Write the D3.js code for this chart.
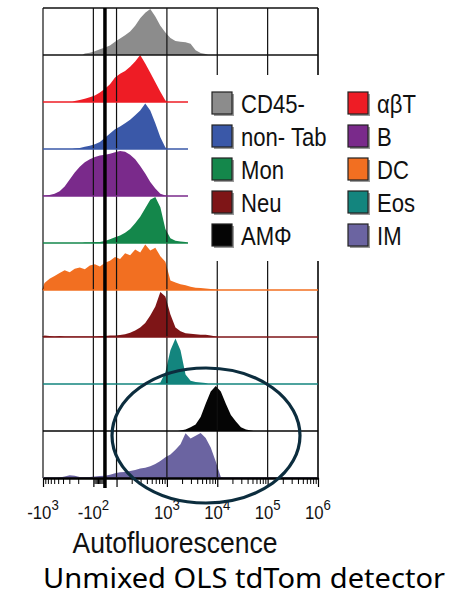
<!DOCTYPE html>
<html>
<head>
<meta charset="utf-8">
<script src="https://cdn.jsdelivr.net/npm/d3@7"></script>
<style>
  body { margin: 0; background: #fff; }
  svg { display: block; }
</style>
</head>
<body>
<script>
// Autofluorescence histograms, one row per cell type

// row order (top to bottom)
const cellTypes = ["CD45-", "αβT", "non- Tab", "B", "Mon", "DC", "Neu", "Eos", "AMΦ", "IM"];
const cellColors = ["#8c8c8c", "#ee1c25", "#3a58a8", "#7a2a8b", "#14874b", "#f26f21", "#7e1517", "#13857e", "#050505", "#6b64a1"];

// legend layout (two columns)
const legendCol1 = ["CD45-", "non- Tab", "Mon", "Neu", "AMΦ"];
const legendCol2 = ["αβT", "B", "DC", "Eos", "IM"];

// histogram heights (fraction of row) per bin, bins are 0.1 display-decade wide
const binStart = [8, 6, 6, 0, 8, 0, 0, 22, 27, 3];
const cd45Hist = [0.03, 0.05, 0.08, 0.12, 0.16, 0.2, 0.28, 0.35, 0.42, 0.5, 0.62, 0.78, 0.9, 0.98, 0.82, 0.62, 0.48, 0.36, 0.3, 0.28, 0.27, 0.24, 0.1, 0.04, 0.02];
const abtHist = [0.02, 0.04, 0.07, 0.1, 0.14, 0.2, 0.28, 0.38, 0.52, 0.6, 0.66, 0.75, 0.86, 1.0, 0.82, 0.62, 0.42, 0.22, 0.03];
const nonTabHist = [0.01, 0.02, 0.05, 0.07, 0.1, 0.15, 0.24, 0.33, 0.42, 0.48, 0.55, 0.62, 0.72, 0.82, 0.97, 0.82, 0.55, 0.25, 0.03];
const bHist = [0.01, 0.02, 0.05, 0.1, 0.2, 0.35, 0.5, 0.62, 0.72, 0.78, 0.83, 0.86, 0.88, 0.9, 0.93, 0.96, 0.94, 0.88, 0.78, 0.64, 0.48, 0.3, 0.16, 0.05, 0.01];
const monHist = [0.01, 0.01, 0.02, 0.02, 0.04, 0.08, 0.12, 0.16, 0.22, 0.3, 0.42, 0.56, 0.74, 0.92, 0.98, 0.76, 0.3, 0.1, 0.05, 0.03, 0.02];
const dcHist = [0.15, 0.24, 0.3, 0.36, 0.42, 0.38, 0.45, 0.48, 0.44, 0.52, 0.55, 0.5, 0.58, 0.62, 0.7, 0.66, 0.78, 0.74, 0.86, 0.8, 0.97, 0.84, 0.9, 0.72, 0.6, 0.2, 0.16, 0.12, 0.1, 0.07, 0.05, 0.04, 0.03, 0.02, 0.01];
const neuHist = [0.03, 0.02, 0.01, 0.02, 0.01, 0.01, 0.01, 0.01, 0.01, 0.01, 0.01, 0.02, 0.02, 0.03, 0.03, 0.04, 0.06, 0.09, 0.14, 0.2, 0.3, 0.46, 0.65, 0.96, 0.86, 0.48, 0.2, 0.12, 0.08, 0.07, 0.06, 0.05, 0.05, 0.03, 0.01];
const eosHist = [0.01, 0.03, 0.25, 0.72, 0.97, 0.72, 0.2, 0.07, 0.04, 0.03, 0.02];
const amHist = [0.01, 0.03, 0.08, 0.14, 0.3, 0.58, 0.84, 0.96, 0.84, 0.58, 0.34, 0.2, 0.08, 0.03, 0.01];
const imHist = [0.01, 0.03, 0.06, 0.05, 0.02, 0.02, 0.02, 0.03, 0.04, 0.05, 0.07, 0.1, 0.12, 0.13, 0.15, 0.17, 0.2, 0.22, 0.25, 0.3, 0.36, 0.44, 0.5, 0.6, 0.72, 0.95, 0.84, 0.9, 0.96, 0.85, 0.65, 0.35, 0.02];
const histograms = [cd45Hist, abtHist, nonTabHist, bHist, monHist, dcHist, neuHist, eosHist, amHist, imHist];

// axis
const majorTicks = [-1000, -100, 1000, 10000, 100000, 1000000];
const tickExp = ["3", "2", "3", "4", "5", "6"];
const gridTicks = [-1000, -100, 100, 1000, 10000, 100000, 1000000];
const minorTicks = [-900, -800, -700, -600, -500, -400, -300, -200,
  -90, -80, -70, -60, -50, -40, -30, -20, -10, 0,
  200, 300, 400, 500, 600, 700, 800, 900,
  2000, 3000, 4000, 5000, 6000, 7000, 8000, 9000,
  20000, 30000, 40000, 50000, 60000, 70000, 80000, 90000,
  200000, 300000, 400000, 500000, 600000, 700000, 800000, 900000];

const W = 449, H = 599;
const plot = {left: 43, right: 318, top: 8, bottom: 478};

// biexponential-like display transform: linear within +-100, log outside
function tf(v) {
  const lin = 100, half = 0.23;
  if (Math.abs(v) <= lin) return v / lin * half;
  return Math.sign(v) * (half + Math.log10(Math.abs(v) / lin));
}
const binU = i => -1.2 + 0.1 * i;

const x = d3.scaleLinear().domain([tf(-1000), tf(1e6)]).range([plot.left, plot.right]);
const y = d3.scaleBand().domain(cellTypes).range([plot.top, plot.bottom]).paddingInner(0);
const bw = y.bandwidth();

const svg = d3.select("body").append("svg")
  .attr("width", W).attr("height", H);

svg.append("rect").attr("width", W).attr("height", H).attr("fill", "#fff");

// histogram fills
cellTypes.forEach((name, k) => {
  const base = y(name) + bw;
  const vals = histograms[k];
  const s = binStart[k];
  const pts = [[binU(s) - 0.05, 0]];
  vals.forEach((v, j) => pts.push([binU(s + j), v]));
  pts.push([binU(s + vals.length - 1) + 0.05, 0]);
  const area = d3.area()
    .x(d => x(d[0]))
    .y0(base)
    .y1(d => base - d[1] * bw);
  svg.append("path")
    .attr("d", area(pts))
    .attr("fill", cellColors[k]);
});

// vertical gridlines
svg.append("g").selectAll("line")
  .data(gridTicks)
  .join("line")
  .attr("x1", d => x(tf(d))).attr("x2", d => x(tf(d)))
  .attr("y1", plot.top).attr("y2", plot.bottom)
  .attr("stroke", "#111").attr("stroke-width", 1.2);

svg.append("line")
  .attr("x1", plot.right).attr("x2", plot.right)
  .attr("y1", plot.top).attr("y2", plot.bottom)
  .attr("stroke", "#111").attr("stroke-width", 1.2);

// top border
svg.append("line")
  .attr("x1", plot.left).attr("x2", plot.right)
  .attr("y1", plot.top).attr("y2", plot.top)
  .attr("stroke", "#111").attr("stroke-width", 1.5);

// baselines in each row's colour
cellTypes.forEach((name, k) => {
  const base = y(name) + bw;
  svg.append("line")
    .attr("x1", plot.left).attr("x2", plot.right)
    .attr("y1", base).attr("y2", base)
    .attr("stroke", k === 0 ? "#111" : cellColors[k])
    .attr("stroke-width", 1.6);
});

// thick zero line
svg.append("line")
  .attr("x1", x(tf(0))).attr("x2", x(tf(0)))
  .attr("y1", plot.top).attr("y2", plot.bottom + 10)
  .attr("stroke", "#000").attr("stroke-width", 3.5);

// legend panel
svg.append("rect")
  .attr("x", 188).attr("y", 75).attr("width", W - 188).attr("height", 186)
  .attr("fill", "#fff");

const legendX = [212, 348];
const legendRowY = d3.scaleBand().domain(d3.range(5)).range([92, 257]);
[legendCol1, legendCol2].forEach((col, c) => {
  col.forEach((name, r) => {
    const color = cellColors[cellTypes.indexOf(name)];
    const yy = legendRowY(r);
    svg.append("rect")
      .attr("x", legendX[c] + 2).attr("y", yy + 2)
      .attr("width", 20).attr("height", 22)
      .attr("fill", "#9a9a9a");
    svg.append("rect")
      .attr("x", legendX[c]).attr("y", yy)
      .attr("width", 20).attr("height", 22)
      .attr("fill", color).attr("stroke", "#222").attr("stroke-width", 1.2);
    svg.append("text")
      .attr("transform", `translate(${legendX[c] + 29},${yy + 21}) scale(0.85,1)`)
      .attr("font-family", "Liberation Sans, Arial, sans-serif")
      .attr("font-size", 26)
      .attr("fill", "#111")
      .text(name);
  });
});

// bottom axis
const axisG = svg.append("g")
  .attr("transform", `translate(0,${plot.bottom})`);
axisG.append("g")
  .call(d3.axisBottom(x).tickValues(minorTicks.map(tf)).tickSize(6).tickSizeOuter(0).tickFormat(""))
  .call(g => g.select(".domain").attr("stroke-width", 2.5).attr("stroke", "#000"))
  .call(g => g.selectAll(".tick line").attr("stroke", "#000").attr("stroke-width", 1));
axisG.append("g")
  .call(d3.axisBottom(x).tickValues(gridTicks.map(tf)).tickSize(9).tickSizeOuter(0).tickFormat(""))
  .call(g => g.select(".domain").remove())
  .call(g => g.selectAll(".tick line").attr("stroke", "#000").attr("stroke-width", 1.2));

// tick labels with superscript exponents
majorTicks.forEach((v, i) => {
  const t = svg.append("text")
    .attr("transform", `translate(${x(tf(v))},519) scale(0.88,1)`)
    .attr("text-anchor", "middle")
    .attr("font-family", "Liberation Sans, Arial, sans-serif")
    .attr("font-size", 19)
    .attr("fill", "#111");
  t.append("tspan").text((v < 0 ? "-" : "") + "10");
  t.append("tspan").attr("dy", -9).attr("font-size", 15).text(tickExp[i]);
});

// axis title and detector label
svg.append("text")
  .attr("x", 175).attr("y", 553)
  .attr("text-anchor", "middle")
  .attr("font-family", "Liberation Sans, Arial, sans-serif")
  .attr("font-size", 30)
  .attr("textLength", 205).attr("lengthAdjust", "spacingAndGlyphs")
  .attr("fill", "#111")
  .text("Autofluorescence");

svg.append("text")
  .attr("x", 43).attr("y", 588)
  .attr("font-family", "Noto Sans, Open Sans, sans-serif")
  .attr("font-size", 26.5)
  .attr("textLength", 402).attr("lengthAdjust", "spacingAndGlyphs")
  .attr("fill", "#000")
  .text("Unmixed OLS tdTom detector");

// highlight ellipse around AMΦ and IM
svg.append("ellipse")
  .attr("cx", 206).attr("cy", 435.5)
  .attr("rx", 94).attr("ry", 67.5)
  .attr("fill", "none")
  .attr("stroke", "#0c2d3e")
  .attr("stroke-width", 3.2);
</script>
</body>
</html>
